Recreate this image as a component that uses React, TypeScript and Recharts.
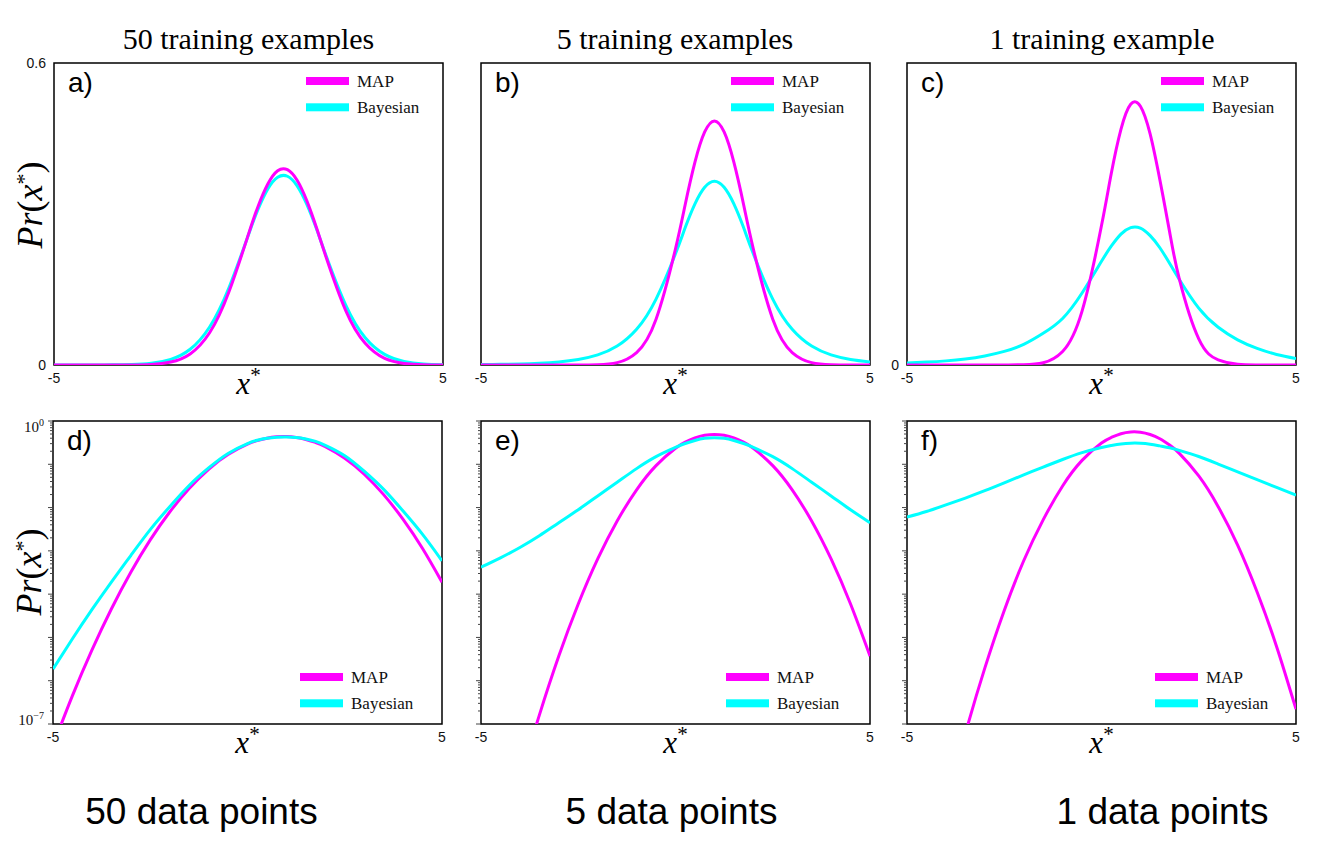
import React from 'react';
import { LineChart, Line, XAxis, YAxis, ReferenceArea, Legend } from 'recharts';

const SERIF = '"Liberation Serif", "Times New Roman", serif';
const SANS = '"Liberation Sans", Arial, sans-serif';
const MAGENTA = '#ff00ff';
const CYAN = '#00ffff';

// layout constants (chart-internal margins)
const ML = 53;
const MR = 20;
const MT = 10;
const XH = 45;
const PW = 389;

// ---------- data ----------
const xs = [-5, -4.5, -4, -3.5, -3, -2.5, -2, -1.5, -1, -0.5, 0, 0.25, 0.5, 0.75, 1, 1.25, 1.5, 1.75, 2, 2.5, 3, 3.5, 4, 4.5, 5];

// 50 training examples (linear)
const mapA = [0.00000001, 0.0000002, 0.0000024, 0.000024, 0.0002, 0.0012, 0.0058, 0.022, 0.064, 0.146, 0.26, 0.316, 0.36, 0.386, 0.388, 0.367, 0.326, 0.272, 0.213, 0.108, 0.043, 0.013, 0.0032, 0.0006, 0.0001];
const bayesA = [0.000005, 0.00002, 0.00008, 0.0003, 0.0011, 0.0036, 0.0112, 0.0313, 0.0756, 0.154, 0.259, 0.31, 0.35, 0.373, 0.375, 0.356, 0.319, 0.27, 0.216, 0.119, 0.0542, 0.0211, 0.0072, 0.0022, 0.00065];

// 5 training examples (linear)
const mapB = [0, 0, 0, 0, 0.000003, 0.00005, 0.0006, 0.0047, 0.0248, 0.091, 0.231, 0.319, 0.403, 0.463, 0.485, 0.463, 0.403, 0.319, 0.231, 0.091, 0.0248, 0.0047, 0.0006, 0.00005, 0.000003];
const bayesB = [0.00085, 0.0013, 0.0021, 0.0036, 0.0061, 0.0109, 0.02, 0.0376, 0.071, 0.131, 0.221, 0.273, 0.32, 0.353, 0.365, 0.353, 0.32, 0.273, 0.221, 0.131, 0.071, 0.0376, 0.02, 0.0109, 0.0061];

// 1 training example (linear)
const mapC = [0, 0, 0, 0, 0, 0.00003, 0.0005, 0.0044, 0.0268, 0.107, 0.277, 0.38, 0.468, 0.518, 0.514, 0.459, 0.368, 0.265, 0.171, 0.0519, 0.0102, 0.0013, 0.0001, 0.00001, 0];
const bayesC = [0.0042, 0.0058, 0.0082, 0.012, 0.018, 0.027, 0.041, 0.063, 0.0925, 0.143, 0.206, 0.236, 0.26, 0.273, 0.272, 0.257, 0.233, 0.202, 0.17, 0.113, 0.075, 0.05, 0.033, 0.021, 0.013];

// 50 data points (log)
const mapD = [3.16e-8, 4.52e-7, 5.08e-6, 4.53e-5, 3.2e-4, 1.79e-3, 7.89e-3, 0.0276, 0.0766, 0.168, 0.291, 0.352, 0.4, 0.43, 0.436, 0.416, 0.375, 0.319, 0.256, 0.138, 0.0589, 0.0199, 5.33e-3, 1.13e-3, 1.89e-4];
const bayesD = [1.86e-6, 9.3e-6, 4.37e-5, 1.9e-4, 7.8e-4, 3.09e-3, 0.0105, 0.0324, 0.0822, 0.178, 0.302, 0.359, 0.398, 0.422, 0.427, 0.417, 0.385, 0.339, 0.275, 0.158, 0.0692, 0.0263, 0.0083, 0.0024, 5.9e-4];

// 5 data points (log)
const mapE = [1.5e-12, 1.0e-10, 4.9e-9, 1.6e-7, 3.7e-6, 5.9e-5, 6.5e-4, 4.9e-3, 0.0257, 0.0933, 0.234, 0.324, 0.407, 0.468, 0.49, 0.468, 0.407, 0.324, 0.234, 0.0933, 0.0257, 4.9e-3, 6.5e-4, 5.9e-5, 3.7e-6];
const bayesE = [4.2e-4, 6.9e-4, 1.2e-3, 2.24e-3, 4.47e-3, 8.9e-3, 0.0186, 0.0385, 0.0794, 0.15, 0.245, 0.302, 0.355, 0.398, 0.412, 0.398, 0.355, 0.302, 0.245, 0.15, 0.0794, 0.0385, 0.0186, 8.9e-3, 4.47e-3];

// 1 data point (log)
const mapF = [1.35e-13, 1.6e-11, 1.2e-9, 6.0e-8, 1.95e-6, 4.2e-5, 5.9e-4, 5.2e-3, 0.0316, 0.123, 0.309, 0.417, 0.509, 0.558, 0.55, 0.488, 0.388, 0.278, 0.179, 0.0537, 0.0105, 1.35e-3, 1.12e-4, 6.2e-6, 2.2e-7];
const bayesF = [6.0e-3, 8.1e-3, 0.0115, 0.0166, 0.0245, 0.0372, 0.0569, 0.0861, 0.129, 0.186, 0.245, 0.272, 0.295, 0.308, 0.307, 0.292, 0.266, 0.24, 0.209, 0.151, 0.101, 0.0668, 0.0442, 0.0292, 0.0195];

// ticks and labels
const xTicks = [-5, 5];
const xTickLabels = ['-5', '5'];
const linTicks = [0, 0.6];
const linTickLabels = ['0', '0.6'];
const logMajorTicks = [1, 1e-1, 1e-2, 1e-3, 1e-4, 1e-5, 1e-6, 1e-7];
const logMinorMultipliers = [2, 3, 4, 5, 6, 7, 8, 9];
const logLabelValues = [1, 1e-7];
const logLabelExponents = ['0', '\u22127'];
const logTicks = [
  ...logMajorTicks,
  ...logMajorTicks.slice(1).flatMap((t) => logMinorMultipliers.map((m) => m * t)),
];

const legendNames = ['MAP', 'Bayesian'];
const legendColors = [MAGENTA, CYAN];

const titles = ['50 training examples', '5 training examples', '1 training example'];
const titleCenters = [248.5, 675, 1102];
const footers = ['50 data points', '5 data points', '1 data points'];
const footerCenters = [201.5, 671.5, 1162.5];

type PanelCfg = {
  key: string;
  letter: string;
  left: number;
  top: number;
  ph: number;
  log: boolean;
  mapV: number[];
  bayesV: number[];
  yLabelSet: number[];
  showPr: boolean;
  prCy: number;
  lx: number;
  ly: number;
  magentaOnTop: boolean;
};

const panels: PanelCfg[] = [
  { key: 'a', letter: 'a)', left: 54, top: 63, ph: 302, log: false, mapV: mapA, bayesV: bayesA, yLabelSet: [0, 0.6], showPr: true, prCy: 142, lx: 252, ly: 17.7, magentaOnTop: true },
  { key: 'b', letter: 'b)', left: 481, top: 63, ph: 302, log: false, mapV: mapB, bayesV: bayesB, yLabelSet: [], showPr: false, prCy: 0, lx: 250, ly: 17.7, magentaOnTop: true },
  { key: 'c', letter: 'c)', left: 907, top: 63, ph: 302, log: false, mapV: mapC, bayesV: bayesC, yLabelSet: [0], showPr: false, prCy: 0, lx: 254, ly: 17.7, magentaOnTop: true },
  { key: 'd', letter: 'd)', left: 53, top: 421, ph: 303, log: true, mapV: mapD, bayesV: bayesD, yLabelSet: logLabelValues, showPr: true, prCy: 151, lx: 247, ly: 255.7, magentaOnTop: false },
  { key: 'e', letter: 'e)', left: 481, top: 421, ph: 303, log: true, mapV: mapE, bayesV: bayesE, yLabelSet: [], showPr: false, prCy: 0, lx: 245, ly: 255.7, magentaOnTop: false },
  { key: 'f', letter: 'f)', left: 907, top: 421, ph: 303, log: true, mapV: mapF, bayesV: bayesF, yLabelSet: [], showPr: false, prCy: 0, lx: 248, ly: 255.7, magentaOnTop: false },
];

function LegendBox() {
  return (
    <svg width={160} height={50} style={{ display: 'block', overflow: 'visible' }}>
      {legendNames.map((name, i) => (
        <g key={name}>
          <rect x={0} y={12 + i * 26.3 - 4} width={43} height={8} fill={legendColors[i]} />
          <text x={51} y={12 + i * 26.3 + 6} fontFamily={SERIF} fontSize={17} fill="#111">
            {name}
          </text>
        </g>
      ))}
    </svg>
  );
}

function Panel({ cfg }: { cfg: PanelCfg }) {
  const rows = xs.map((x, i) => ({ x, map: cfg.mapV[i], bayes: cfg.bayesV[i] }));
  const W = ML + PW + MR;
  const H = MT + cfg.ph + XH;
  const plotBottom = MT + cfg.ph;
  const yDomain: [number, number] = cfg.log ? [1e-7, 1] : [0, 0.6];

  const xTick = (props: any) => {
    const v = props.payload.value;
    const idx = xTicks.indexOf(v);
    return (
      <text x={props.x} y={plotBottom + 18} textAnchor="middle" fontFamily={SANS} fontSize={14} fill="#111">
        {idx >= 0 ? xTickLabels[idx] : ''}
      </text>
    );
  };

  const yTick = (props: any) => {
    const v = props.payload.value;
    const y = props.y;
    if (!cfg.log) {
      if (!cfg.yLabelSet.includes(v)) return <g />;
      const idx = linTicks.indexOf(v);
      return (
        <text x={ML - 8} y={y + 5} textAnchor="end" fontFamily={SANS} fontSize={14} fill="#111">
          {linTickLabels[idx]}
        </text>
      );
    }
    const lg = Math.log10(v);
    const major = Math.abs(lg - Math.round(lg)) < 1e-6;
    const len = major ? 5 : 3;
    const li = logLabelValues.findIndex((lv) => Math.abs(Math.log10(lv) - lg) < 1e-6);
    const showLabel = major && li >= 0 && cfg.yLabelSet.length > 0;
    return (
      <g>
        <line x1={ML - len} x2={ML} y1={y} y2={y} stroke="#444" strokeWidth={1} />
        {showLabel && (
          <text x={ML - 9} y={y + (li === 0 ? 11 : 1)} textAnchor="end" fontFamily={SERIF} fontSize={15} fill="#111">
            10
            <tspan dy={-6} fontSize={10}>
              {logLabelExponents[li]}
            </tspan>
          </text>
        )}
      </g>
    );
  };

  const decor = (props: any) => {
    const vb = props.viewBox || { x: ML, y: MT, width: PW, height: cfg.ph };
    const { x, y, width, height } = vb;
    const prX = x - 24;
    const prY = y + cfg.prCy;
    return (
      <g>
        <text x={x + 14} y={y + 29} fontFamily={SANS} fontSize={28} fill="#000">
          {cfg.letter}
        </text>
        <text x={x + width / 2} y={y + height + 29} textAnchor="middle" fontFamily={SERIF} fontStyle="italic" fontSize={31} fill="#000">
          x
          <tspan fontStyle="normal" fontSize={21} dy={-12}>
            *
          </tspan>
        </text>
        {cfg.showPr && (
          <text
            x={prX}
            y={prY}
            transform={`rotate(-90, ${prX}, ${prY})`}
            textAnchor="middle"
            dominantBaseline="central"
            fontFamily={SERIF}
            fontSize={36}
            fill="#000"
          >
            <tspan fontStyle="italic">Pr</tspan>
            <tspan>(</tspan>
            <tspan fontStyle="italic">x</tspan>
            <tspan fontSize={22} dy={-7}>
              *
            </tspan>
            <tspan dy={7}>)</tspan>
          </text>
        )}
      </g>
    );
  };

  const mapLine = (
    <Line key="map" dataKey="map" stroke={MAGENTA} strokeWidth={3} dot={false} activeDot={false} type="natural" isAnimationActive={false} />
  );
  const bayesLine = (
    <Line key="bayes" dataKey="bayes" stroke={CYAN} strokeWidth={3} dot={false} activeDot={false} type="natural" isAnimationActive={false} />
  );

  return (
    <div style={{ position: 'absolute', left: cfg.left - ML, top: cfg.top - MT }}>
      <LineChart width={W} height={H} data={rows} margin={{ top: MT, right: MR, bottom: 0, left: 0 }} style={{ overflow: 'visible' }}>
        <XAxis
          dataKey="x"
          type="number"
          domain={[-5, 5]}
          ticks={xTicks}
          interval={0}
          height={XH}
          axisLine={false}
          tickLine={false}
          tick={xTick}
          allowDataOverflow
        />
        <YAxis
          type="number"
          scale={cfg.log ? 'log' : 'linear'}
          domain={yDomain}
          ticks={cfg.log ? logTicks : linTicks}
          interval={0}
          width={ML}
          axisLine={false}
          tickLine={false}
          tick={yTick}
          allowDataOverflow
        />
        {cfg.magentaOnTop ? [bayesLine, mapLine] : [mapLine, bayesLine]}
        <ReferenceArea
          x1={-5}
          x2={5}
          y1={yDomain[0]}
          y2={yDomain[1]}
          fill="none"
          fillOpacity={0}
          stroke="#000"
          strokeWidth={1.5}
          strokeOpacity={1}
          ifOverflow="visible"
          label={{ content: decor }}
        />
        <Legend
          layout="vertical"
          align="center"
          verticalAlign="middle"
          wrapperStyle={{ left: ML + cfg.lx, top: MT + cfg.ly - 12, width: 160, height: 50 }}
          content={() => <LegendBox />}
        />
      </LineChart>
    </div>
  );
}

export default function App() {
  return (
    <div style={{ position: 'absolute', left: 0, top: 0, width: 1338, height: 858, background: '#fff', overflow: 'hidden' }}>
      <svg style={{ position: 'absolute', left: 0, top: 0 }} width={1338} height={858}>
        {titles.map((t, i) => (
          <text key={t} x={titleCenters[i]} y={49} textAnchor="middle" fontFamily={SERIF} fontSize={30} fill="#000">
            {t}
          </text>
        ))}
        {footers.map((t, i) => (
          <text key={t} x={footerCenters[i]} y={824} textAnchor="middle" fontFamily={SANS} fontSize={37} fill="#000">
            {t}
          </text>
        ))}
      </svg>
      {panels.map((p) => (
        <Panel key={p.key} cfg={p} />
      ))}
    </div>
  );
}
